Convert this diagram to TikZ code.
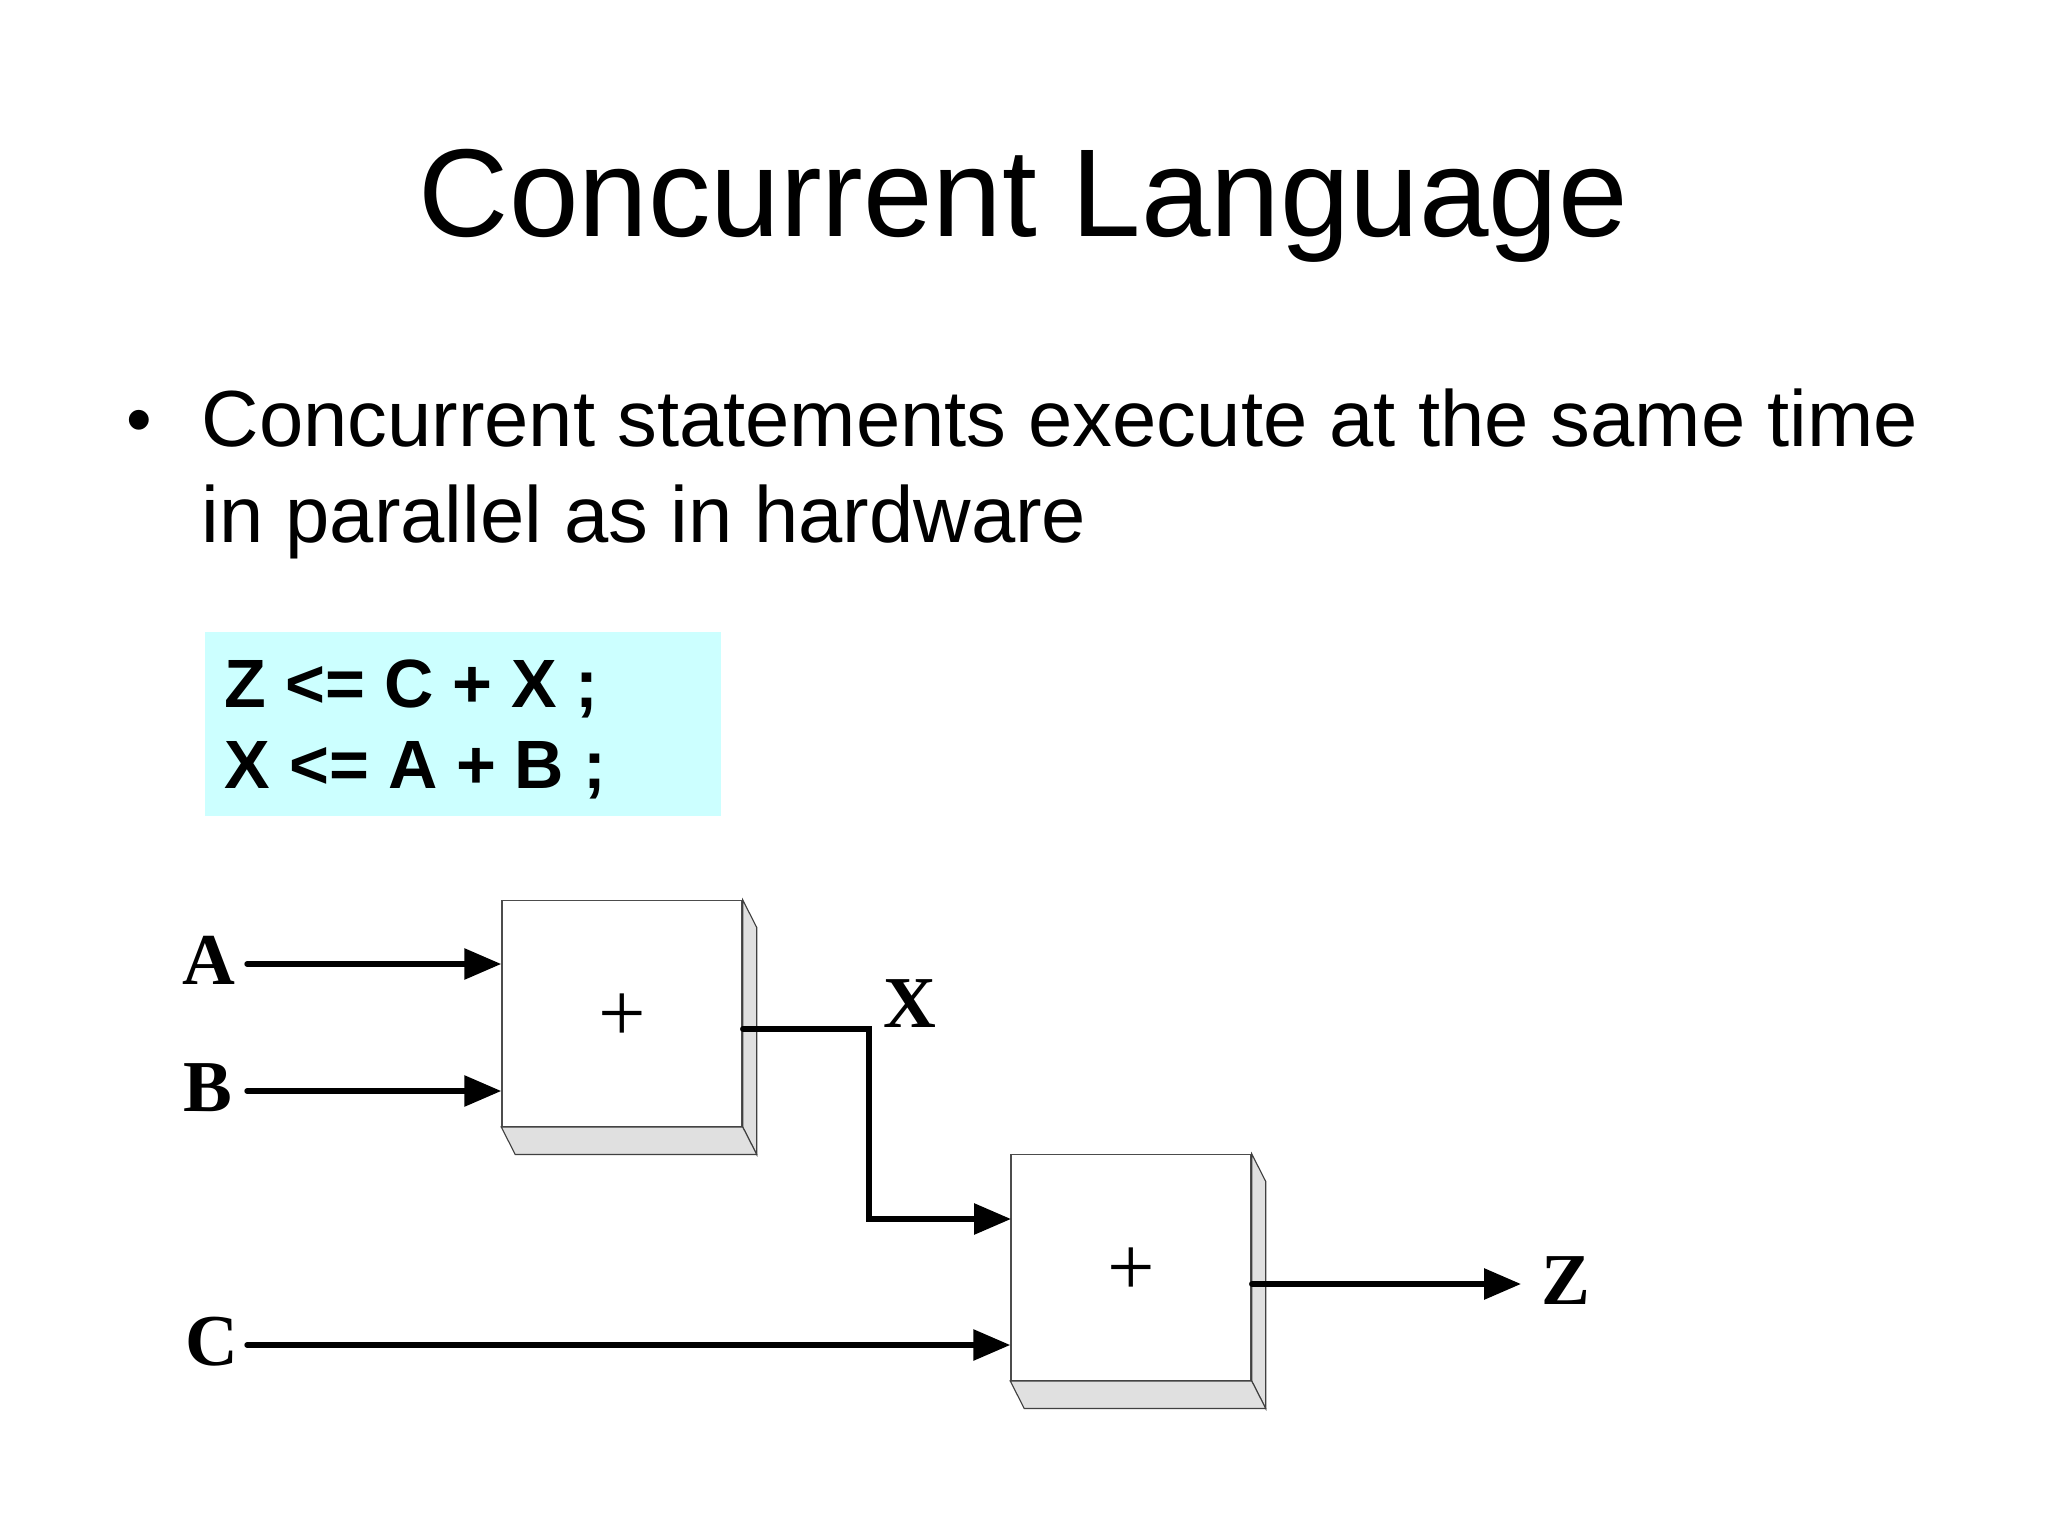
\documentclass[tikz,border=0pt]{standalone}
\usepackage{fontspec}
\setmainfont{Liberation Sans}
\newfontfamily\pinfont{Liberation Serif}
\usetikzlibrary{arrows.meta,calc}
\definecolor{codecyan}{HTML}{CCFFFF}
\definecolor{sidegray}{HTML}{E0E0E0}

\begin{document}
\begin{tikzpicture}[
    x=0.0125cm, y=-0.0125cm,
    adder/.style={
        draw=black!70, line width=0.5pt, fill=white,
        minimum width=3cm, minimum height=2.82cm,
        inner sep=0pt, text height=19.9pt, text depth=0pt,
        font=\pinfont\fontsize{30}{32}\selectfont
    },
    side/.style={
        draw=black!75, line width=0.4pt, fill=sidegray
    },
    wire/.style={
        black, line width=1.9pt, line cap=round
    },
    arrow/.style={
        wire, -{Triangle[length=13.1pt,width=10.7pt]}
    },
    pin/.style={
        font=\pinfont\bfseries\fontsize{26}{28}\selectfont,
        text height=47*0.3556pt, text depth=7*0.3556pt,
        inner ysep=0pt
    },
    bodytext/.style={
        anchor=base west, inner sep=0pt, font=\fontsize{28.3}{34}\selectfont
    }
]
\useasboundingbox (0,0) rectangle (2048,1536);

% Title and bullet text
\node[anchor=base,inner sep=0pt,font=\fontsize{44.45}{50}\selectfont] (title) at (1023.5,236)
    {Concurrent Language};
\node[bodytext,font=\fontsize{26}{30}\selectfont] (bullet) at (126,444) {\textbullet};
\node[bodytext] (lineone) at (201,446)
    {Concurrent statements execute at the same time};
\node[bodytext] (linetwo) at (201,542)
    {in parallel as in hardware};

% Code box
\node[fill=codecyan,minimum width=6.45cm,minimum height=2.3cm,
      text width=5.95cm,inner sep=0pt,align=left,
      font=\bfseries\fontsize{24.3}{28.8}\selectfont] (code) at (463,724)
    {\spaceskip=6.7pt\relax\rule{0pt}{20.5pt}Z <= C + X ;\\X <= A + B ;};

% Adders
\node[adder] (addOne) at (622,1013.5) {+};
\node[adder] (addTwo) at (1131,1267.5) {+};

% Sides of the adders
\foreach \nm in {addOne,addTwo} {
    \draw[side] (\nm.north east) -- ++(14,27.5) -- ($(\nm.south east)+(14,27.5)$) -- (\nm.south east) -- cycle;
    \draw[side] (\nm.south west) -- ++(14,27.5) -- ($(\nm.south east)+(14,27.5)$) -- (\nm.south east) -- cycle;
}

% Signal names
\node[pin,anchor=east,inner xsep=3.8pt] (pinA) at (247,964) {A};
\node[pin,anchor=east,inner xsep=5.2pt] (pinB) at (247,1091) {B};
\node[pin,anchor=east,inner xsep=2.9pt] (pinC) at (247,1345) {C};
\node[pin,anchor=west,inner xsep=7.1pt] (pinZ) at (1521,1284) {Z};
\node[pin,anchor=west,inner xsep=0pt] (pinX) at (883,1007) {X};

% Junction of X
\coordinate (bendX) at (869,1029);
\coordinate (inX) at (1011,1219);

% Connectors
\draw[arrow] (pinA.east) -- (addOne.west |- pinA);
\draw[arrow] (pinB.east) -- (addOne.west |- pinB);
\draw[arrow] (pinC.east) -- (addTwo.west |- pinC);
\draw[arrow] (addOne.east |- bendX) -- (bendX) |- (inX);
\draw[arrow] (addTwo.east |- pinZ) -- (pinZ.west);

\end{tikzpicture}
\end{document}
